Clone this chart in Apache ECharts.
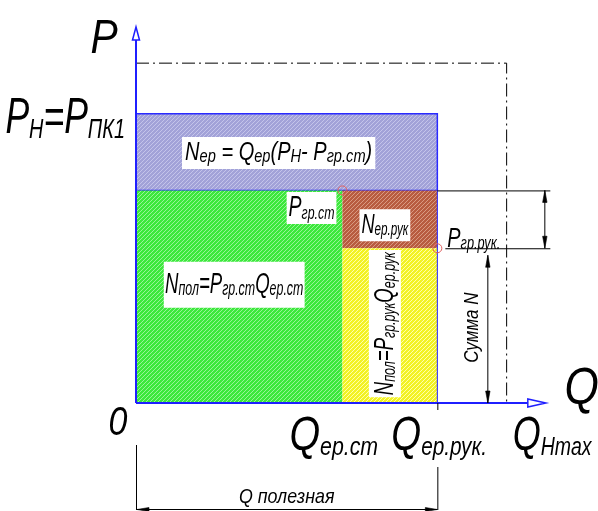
<!DOCTYPE html>
<html>
<head>
<meta charset="utf-8">
<script src="https://cdn.jsdelivr.net/npm/echarts@6/dist/echarts.min.js"></script>
<style>
html, body { margin: 0; padding: 0; background: #fff; }
#chart { width: 598px; height: 511px; }
</style>
</head>
<body>
<div id="chart"></div>
<script>
// Flow rate levels on the Q axis
const qNames = ['Qер.ст', 'Qер.рук.', 'QНmax'];
const qLevels = [68.5, 100, 123];
// Pressure levels on the P axis
const pNames = ['PН', 'Pгр.ст', 'Pгр.рук', 'Pmax'];
const pLevels = [100, 73.5, 53.5, 117.5];
// Axis extents (arrow tips)
const axisQ = 136;
const axisP = 130;

const [Q_ST, Q_RUK, Q_MAX] = qLevels;
const [P_N, P_ST, P_RUK, P_TOP] = pLevels;

// Power areas as [Q from, Q to, P from, P to]
const areaNames = ['Nер', 'Nпол ст', 'Nер.рук', 'Nпол рук'];
const areas = [
  [0, Q_RUK, P_ST, P_N],
  [0, Q_ST, 0, P_ST],
  [Q_ST, Q_RUK, P_RUK, P_ST],
  [Q_ST, Q_RUK, 0, P_RUK]
];

const FONT = '"Liberation Sans Narrow", "Liberation Sans", Arial, sans-serif';
const SQUEEZE = 0.85;
const BLUE = '#1f1fff';

// Diagonal hatch fill
function hatch(base, line) {
  const c = document.createElement('canvas');
  c.width = c.height = 4;
  const g = c.getContext('2d');
  g.fillStyle = base;
  g.fillRect(0, 0, 4, 4);
  g.fillStyle = line;
  for (let i = 0; i < 4; i++) g.fillRect(i, 3 - i, 1, 1);
  return { image: c, repeat: 'repeat' };
}
const areaFills = [
  hatch('#a2a2d8', '#c4c4ea'),
  hatch('#3ce83c', '#98f498'),
  hatch('#b85c40', '#d99a82'),
  hatch('#f2f224', '#ffffa8')
];

// Rich text styles: main letters and smaller index letters sharing a baseline
function rs(M, s) {
  const base = { fontStyle: 'italic', fontFamily: FONT, fill: '#000', verticalAlign: 'bottom' };
  return {
    m: Object.assign({ fontSize: M, lineHeight: M }, base),
    s: Object.assign({ fontSize: s, lineHeight: Math.round(0.6 * s + 0.4 * M) }, base)
  };
}
function T(x, y, text, rich, o) {
  o = o || {};
  return {
    type: 'text', x: x, y: y,
    rotation: o.rot || 0,
    scaleX: o.sx != null ? o.sx : SQUEEZE,
    style: {
      text: text, rich: rich,
      align: o.align || 'center',
      verticalAlign: o.va || 'middle',
      backgroundColor: o.bg ? '#fff' : null,
      padding: o.padding || 0,
      fill: '#000'
    }
  };
}
function arrowHead(tx, ty, dx, dy, len, half) {
  const bx = tx - dx * len, by = ty - dy * len;
  return {
    type: 'polygon',
    shape: { points: [[tx, ty], [bx - dy * half, by + dx * half], [bx + dy * half, by - dx * half]] },
    style: { fill: '#000', stroke: '#000', lineWidth: 0.6 }
  };
}
function seg(x1, y1, x2, y2, style) {
  return { type: 'line', shape: { x1: x1, y1: y1, x2: x2, y2: y2 }, style: Object.assign({ stroke: '#000', lineWidth: 1 }, style || {}) };
}

const chart = echarts.init(document.getElementById('chart'), null, { renderer: 'canvas' });

chart.setOption({
  animation: false,
  backgroundColor: '#fff',
  grid: { left: 136, top: 27, width: 452, height: 376 },
  xAxis: { type: 'value', min: 0, max: 150, show: false },
  yAxis: { type: 'value', min: 0, max: 130, show: false },
  series: [
    {
      // hatched power areas
      type: 'custom', z: 1, silent: true,
      data: areas,
      renderItem: function (params, api) {
        const a = api.coord([api.value(0), api.value(3)]);
        const b = api.coord([api.value(1), api.value(2)]);
        const i = params.dataIndex;
        return {
          type: 'rect',
          shape: { x: a[0], y: a[1], width: b[0] - a[0], height: b[1] - a[1] },
          style: {
            fill: areaFills[i],
            stroke: i === 0 ? '#2a2aff' : null,
            lineWidth: i === 0 ? 1.5 : 0
          }
        };
      }
    },
    {
      // axes, frame of maximum values and dimension lines
      type: 'custom', z: 2, silent: true,
      data: [[0, 0]],
      renderItem: function (params, api) {
        const o = api.coord([0, 0]);
        const x0 = o[0], y0 = o[1];
        const yEnd = api.coord([0, axisP])[1];
        const xEnd = api.coord([axisQ, 0])[0];
        const xs = api.coord([Q_ST, 0])[0];
        const xr = api.coord([Q_RUK, 0])[0];
        const xm = api.coord([Q_MAX, 0])[0];
        const ys = api.coord([0, P_ST])[1];
        const yr = api.coord([0, P_RUK])[1];
        const yt = api.coord([0, P_TOP])[1];
        const c = [];
        // dash-dot frame
        c.push({ type: 'polyline', shape: { points: [[x0, yt], [xm, yt], [xm, y0]] },
          style: { stroke: '#000', lineWidth: 1, lineDash: [13, 4, 2, 4], fill: null } });
        // right edge of the lower areas
        c.push(seg(xr, ys, xr, y0, { stroke: BLUE, lineWidth: 1 }));
        // axes with open arrow heads
        c.push(seg(x0, y0, x0, yEnd + 13, { stroke: BLUE, lineWidth: 2 }));
        c.push({ type: 'polygon', shape: { points: [[x0, yEnd], [x0 - 3.5, yEnd + 13], [x0 + 3.5, yEnd + 13]] },
          style: { fill: '#fff', stroke: BLUE, lineWidth: 1.5 } });
        c.push(seg(x0, y0, xEnd - 18, y0, { stroke: BLUE, lineWidth: 2 }));
        c.push({ type: 'polygon', shape: { points: [[xEnd, y0], [xEnd - 18, y0 - 4], [xEnd - 18, y0 + 4]] },
          style: { fill: '#fff', stroke: BLUE, lineWidth: 1.5 } });
        // operating points
        c.push({ type: 'circle', shape: { cx: xs, cy: ys, r: 4.5 }, style: { fill: null, stroke: '#e06060', lineWidth: 1 } });
        c.push({ type: 'circle', shape: { cx: xr, cy: yr, r: 4.5 }, style: { fill: null, stroke: '#e06060', lineWidth: 1 } });
        // pressure difference dimension
        c.push(seg(xr, ys + 0.5, xr + 113, ys + 0.5));
        c.push(seg(xr + 8, yr + 0.5, xr + 113, yr + 0.5));
        const xd = xr + 107.5;
        c.push(seg(xd, ys, xd, yr));
        c.push(arrowHead(xd, ys, 0, -1, 12, 2.2));
        c.push(arrowHead(xd, yr, 0, 1, 12, 2.2));
        // total power dimension
        const xn = xr + 50.5;
        c.push(seg(xn, yr + 7, xn, y0));
        c.push(arrowHead(xn, yr + 7, 0, -1, 12, 2.2));
        c.push(arrowHead(xn, y0, 0, 1, 12, 2.2));
        // useful flow dimension
        c.push(seg(xr + 0.5, y0, xr + 0.5, y0 + 7));
        c.push(seg(x0 + 0.5, y0 + 42, x0 + 0.5, y0 + 107));
        c.push(seg(xr + 0.5, y0 + 64, xr + 0.5, y0 + 107));
        const yq = y0 + 106.5;
        c.push(seg(x0, yq, xr, yq));
        c.push(arrowHead(x0 + 1, yq, -1, 0, 12, 2));
        c.push(arrowHead(xr, yq, 1, 0, 12, 2));
        return { type: 'group', children: c };
      }
    },
    {
      // text of the diagram
      type: 'custom', z: 3, silent: true,
      data: [[0, 0]],
      renderItem: function (params, api) {
        const o = api.coord([0, 0]);
        const x0 = o[0], y0 = o[1];
        const yEnd = api.coord([0, axisP])[1];
        const xEnd = api.coord([axisQ, 0])[0];
        const xs = api.coord([Q_ST, 0])[0];
        const xr = api.coord([Q_RUK, 0])[0];
        const xm = api.coord([Q_MAX, 0])[0];
        const yN = api.coord([0, P_N])[1];
        const ys = api.coord([0, P_ST])[1];
        const yr = api.coord([0, P_RUK])[1];
        const xn = xr + 50.5;
        const L = [];
        // axis names
        L.push(T(x0 - 32, yEnd + 13, '{m|P}', rs(48, 30)));
        L.push(T(xEnd + 36, y0 - 13, '{m|Q}', rs(52, 30)));
        L.push(T(x0 - 18, y0 + 21, '{m|0}', rs(40, 30)));
        // pressure level labels
        L.push(T(x0 - 11, yN + 5, '{m|P}{s|Н}{m|=P}{s|ПК1}', rs(50, 28), { align: 'right', sx: 0.71 }));
        L.push(T(xs - 6, ys + 1.5, '{m|P}{s|гр.ст}', rs(30, 19), { align: 'right', va: 'top', bg: true, padding: [1, 3, 1, 3], sx: 0.65 }));
        L.push(T(xr + 10, yr - 9, '{m|P}{s|гр.рук.}', rs(28, 18), { align: 'left', sx: 0.71 }));
        // flow level labels
        L.push(T(xs - 53, y0 + 34, '{m|Q}{s|ер.ст}', rs(48, 26), { align: 'left', sx: 0.82 }));
        L.push(T(xr - 46, y0 + 34, '{m|Q}{s|ер.рук.}', rs(48, 26), { align: 'left', sx: 0.8 }));
        L.push(T(xm + 6, y0 + 34, '{m|Q}{s|Нmax}', rs(48, 26), { align: 'left', sx: 0.75 }));
        // power areas
        L.push(T((x0 + xr) / 2 - 8, (yN + ys) / 2 + 1,
          '{m|N}{s|ер}{m| = Q}{s|ер}{m|(P}{s|Н}{m|- P}{s|гр.ст}{m|)}', rs(26, 19),
          { bg: true, padding: [3, 4, 3, 4], sx: 0.77 }));
        L.push(T((x0 + xs) / 2 - 5, (ys + y0) / 2 - 12,
          '{m|N}{s|пол}{m|=P}{s|гр.ст}{m|Q}{s|ер.ст}', rs(30, 20),
          { bg: true, padding: [8, 2, 8, 2], sx: 0.62 }));
        L.push(T((xs + xr) / 2 - 5, (ys + yr) / 2 + 6,
          '{m|N}{s|ер.рук}', rs(28, 18), { bg: true, padding: [2, 3, 2, 3], sx: 0.65 }));
        L.push(T((xs + xr) / 2 - 5, (yr + y0) / 2 - 2,
          '{m|N}{s|пол}{m|=P}{s|гр.рук}{m|Q}{s|ер.рук}', rs(28, 19),
          { rot: Math.PI / 2, bg: true, padding: [2, 3, 2, 3], sx: 0.66 }));
        // dimension captions
        L.push(T(xn - 15, (yr + y0) / 2 + 2, '{m|Сумма N}', rs(20, 20), { rot: Math.PI / 2 }));
        L.push(T((x0 + xr) / 2, y0 + 94, '{m|Q полезная}', rs(21, 21)));
        return { type: 'group', children: L };
      }
    }
  ]
});
</script>
</body>
</html>
